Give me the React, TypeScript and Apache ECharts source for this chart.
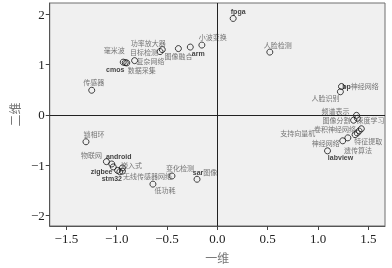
import React, { useEffect, useRef } from 'react';
import * as echarts from 'echarts';

const pointNames = [
  '传感器', '毫米波', 'cmos', '数据采集', '复杂网络', '功率放大器', '目标检测', '图像融合', 'arm', '小波变换',
  'fpga', '人脸检测', 'bp神经网络', '人脸识别', '频谱表示', '图像分割', '深度学习', '特征提取', '卷积神经网络', '',
  '遗传算法', '支持向量机', '神经网络', 'labview', '锁相环', '物联网', 'android', '', 'zigbee', 'stm32',
  '嵌入式', '无线传感器网络', '低功耗', '变化检测', 'sar图像',
];
const dim1 = [
  -1.248, -0.935, -0.915, -0.9, -0.822, -0.547, -0.569, -0.387, -0.269, -0.154,
  0.157, 0.521, 1.233, 1.222, 1.382, 1.353, 1.391, 1.43, 1.408, 1.389,
  1.368, 1.296, 1.245, 1.094, -1.305, -1.102, -1.049, -1.034, -0.991, -0.969,
  -0.943, -0.943, -0.64, -0.451, -0.202,
];
const dim2 = [
  0.49, 1.05, 1.04, 1.035, 1.08, 1.3, 1.26, 1.32, 1.35, 1.39,
  1.92, 1.25, 0.565, 0.46, -0.01, -0.107, -0.068, -0.277, -0.322, -0.361,
  -0.394, -0.458, -0.517, -0.717, -0.536, -0.932, -0.979, -1.037, -1.107, -1.135,
  -1.057, -1.121, -1.38, -1.218, -1.283,
];
const labelOffsets: number[][] = [
  [2, -8], [-9, -12], [-10, 7], [15, 7], [16, 0], [-14, -7], [-16, 0], [0, 7], [8, 6], [11, -8],
  [5, -7], [8, -7], [19, 0], [-15, 6], [-21, -4], [-17, 0], [13, 2], [7, 12], [-24, -2], [0, 0],
  [3, 15], [-50, -5], [-17, 2], [13, 7], [8, -8], [-15, -7], [7, -7], [0, 0], [-16, 1], [-8, 7],
  [9, -3], [25, 5], [12, 6], [8, -8], [8, -7],
];
const xTicks = [-1.5, -1.0, -0.5, 0.0, 0.5, 1.0, 1.5];
const yTicks = [-2, -1, 0, 1, 2];
const xName = '一维';
const yName = '二维';

function richLabel(name: string): string {
  if (!name) return '';
  const parts = name.match(/[A-Za-z0-9]+|[^A-Za-z0-9]+/g) || [];
  return parts.map((p) => (/^[A-Za-z0-9]+$/.test(p) ? `{en|${p}}` : `{zh|${p}}`)).join('');
}

const minus = (s: string) => s.replace('-', '\u2212');

export default function App() {
  const ref = useRef<HTMLDivElement>(null);
  useEffect(() => {
    if (!ref.current) return;
    const chart = echarts.init(ref.current, null, { renderer: 'svg' });
    const data = pointNames.map((n, i) => ({
      name: n,
      value: [dim1[i], dim2[i]],
      label: { offset: labelOffsets[i] },
    }));
    chart.setOption({
      animation: false,
      backgroundColor: '#ffffff',
      grid: {
        left: 38, top: 3, right: 7, bottom: 37,
        show: true, backgroundColor: '#f0f0f0', borderColor: '#6e6e6e', borderWidth: 1,
      },
      xAxis: {
        type: 'value', min: -1.665, max: 1.665,
        name: xName, nameLocation: 'middle', nameGap: 25,
        nameTextStyle: { fontFamily: '"Noto Sans CJK SC"', fontSize: 12, color: '#777' },
        axisLine: { show: true, onZero: false, lineStyle: { color: '#555', width: 1 } },
        axisTick: { show: true, customValues: xTicks, length: 4, lineStyle: { color: '#444' } },
        axisLabel: {
          customValues: xTicks, margin: 6,
          formatter: (v: number) => minus(v.toFixed(1)),
          fontFamily: '"Liberation Serif", serif', fontSize: 13, color: '#222',
        },
        splitLine: { show: false },
      },
      yAxis: {
        type: 'value', min: -2.214, max: 2.228,
        name: yName, nameLocation: 'middle', nameGap: 20, nameRotate: 90,
        nameTextStyle: { fontFamily: '"Noto Sans CJK SC"', fontSize: 12, color: '#777' },
        axisLine: { show: true, onZero: false, lineStyle: { color: '#555', width: 1 } },
        axisTick: { show: true, customValues: yTicks, length: 4, lineStyle: { color: '#444' } },
        axisLabel: {
          customValues: yTicks, margin: 5,
          formatter: (v: number) => minus(String(v)),
          fontFamily: '"Liberation Serif", serif', fontSize: 13, color: '#222',
        },
        splitLine: { show: false },
      },
      series: [
        {
          type: 'scatter',
          symbol: 'circle',
          symbolSize: 6,
          itemStyle: { color: 'rgba(0,0,0,0)', borderColor: '#111', borderWidth: 1 },
          label: {
            show: true,
            position: ['50%', '50%'],
            align: 'center',
            verticalAlign: 'middle',
            color: '#555',
            textBorderWidth: 0,
            formatter: (p: any) => richLabel(p.name),
            rich: {
              en: { fontFamily: '"Liberation Sans", Arial', fontWeight: 'bold', fontSize: 7, color: '#111', textBorderWidth: 0 },
              zh: { fontFamily: '"Noto Sans CJK SC"', fontSize: 7, color: '#555', textBorderWidth: 0 },
            },
          },
          data,
          markLine: {
            silent: true,
            symbol: 'none',
            label: { show: false },
            lineStyle: { color: '#222', type: 'solid', width: 1 },
            data: [{ xAxis: 0 }, { yAxis: 0 }],
          },
          z: 3,
        },
      ],
    });
    return () => chart.dispose();
  }, []);
  return (
    <div
      ref={ref}
      style={{ position: 'absolute', left: 0, top: 0, width: 392, height: 268, willChange: 'transform' }}
    />
  );
}
